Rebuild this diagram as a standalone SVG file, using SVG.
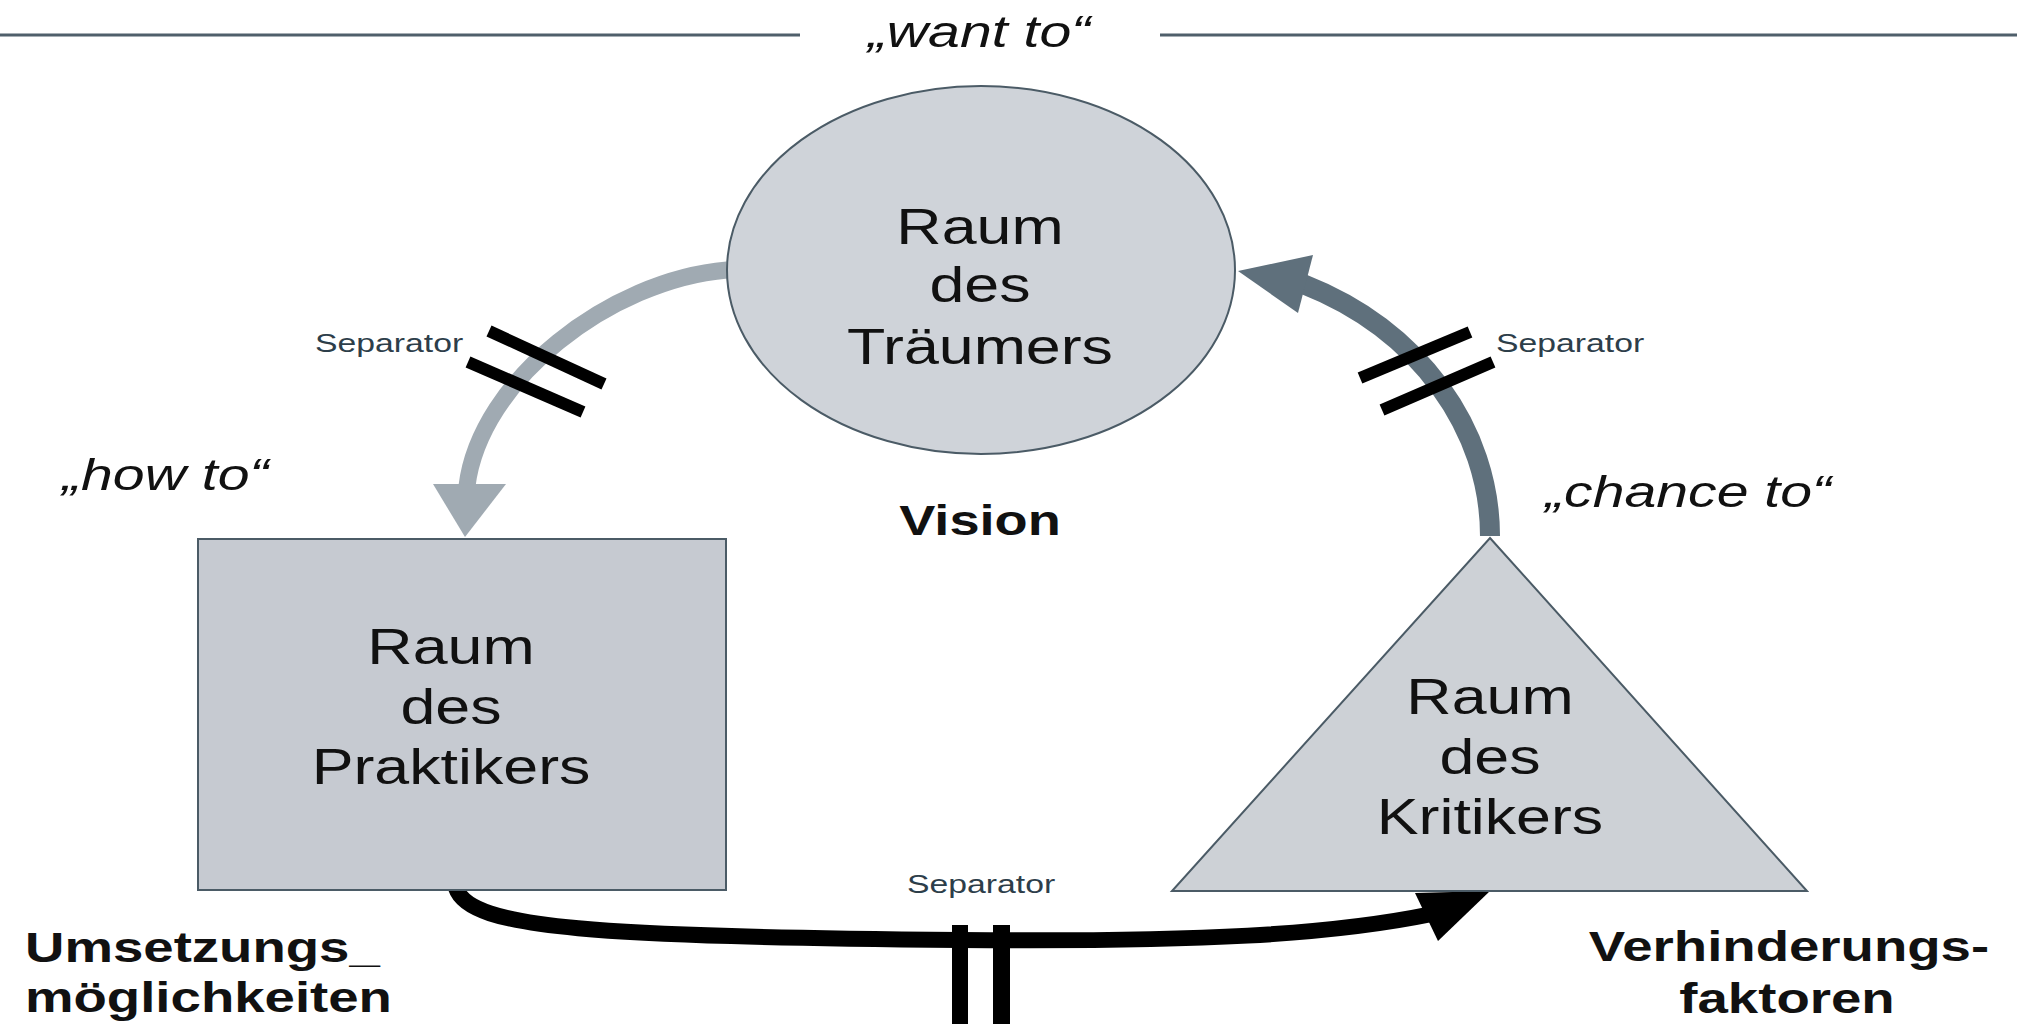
<svg xmlns="http://www.w3.org/2000/svg" width="2017" height="1024" viewBox="0 0 2017 1024">
<style>
.t{font-family:"Liberation Sans",Arial,sans-serif;fill:#111;}
.big{font-size:49px;}
.it{font-size:44px;font-style:italic;}
.bd{font-size:42px;font-weight:bold;}
.sep{font-family:"Liberation Sans",Arial,sans-serif;font-size:25px;fill:#2d3e4a;}
.node{stroke:#4b5b66;stroke-width:2;}
.bar{stroke:#000;stroke-width:12;}
</style>
<rect width="2017" height="1024" fill="#fff"/>
<g id="topline" stroke="#4f5f6b" stroke-width="3">
<line x1="0" y1="35" x2="800" y2="35"/>
<line x1="1160" y1="35" x2="2017" y2="35"/>
</g>
<text class="t it" text-anchor="middle" transform="translate(979,47) scale(1.3,1)">„want to“</text>

<g id="connectors">
<path d="M727 270 C610 280 480 380 467 486" fill="none" stroke="#a0aab2" stroke-width="17"/>
<polygon points="465,537 433,484 506,484" fill="#a0aab2"/>
<path d="M1490 536 C1490 430 1420 330 1303 284" fill="none" stroke="#5f707c" stroke-width="20"/>
<polygon points="1238,271 1313,255 1298,313" fill="#5f707c"/>
<path d="M456 888 C470 930 600 936 960 940 C1200 942 1330 935 1432 914" fill="none" stroke="#000" stroke-width="16"/>
<polygon points="1490,891 1415,893 1438,941" fill="#000"/>
<line class="bar" x1="489" y1="331" x2="604" y2="384"/>
<line class="bar" x1="468" y1="362" x2="583" y2="412"/>
<line class="bar" x1="1360" y1="378" x2="1470" y2="332"/>
<line class="bar" x1="1382" y1="410" x2="1493" y2="362"/>
<rect x="952" y="925" width="16" height="100" fill="#000"/>
<rect x="993" y="925" width="17" height="100" fill="#000"/>
</g>

<g id="traeumer">
<ellipse class="node" cx="981" cy="270" rx="254" ry="184" fill="#cfd3d9"/>
<text class="t big" text-anchor="middle" transform="translate(980,244) scale(1.28,1)">Raum</text>
<text class="t big" text-anchor="middle" transform="translate(980,302) scale(1.28,1)">des</text>
<text class="t big" text-anchor="middle" transform="translate(980,364) scale(1.28,1)">Träumers</text>
</g>

<g id="praktiker">
<rect class="node" x="198" y="539" width="528" height="351" fill="#c6cad1"/>
<text class="t big" text-anchor="middle" transform="translate(451,664) scale(1.28,1)">Raum</text>
<text class="t big" text-anchor="middle" transform="translate(451,724) scale(1.28,1)">des</text>
<text class="t big" text-anchor="middle" transform="translate(451,784) scale(1.28,1)">Praktikers</text>
</g>

<g id="kritiker">
<polygon class="node" points="1490,538 1807,891 1172,891" fill="#cdd1d6"/>
<text class="t big" text-anchor="middle" transform="translate(1490,714) scale(1.28,1)">Raum</text>
<text class="t big" text-anchor="middle" transform="translate(1490,774) scale(1.28,1)">des</text>
<text class="t big" text-anchor="middle" transform="translate(1490,834) scale(1.28,1)">Kritikers</text>
</g>

<g id="labels">
<text class="sep" transform="translate(315,352) scale(1.35,1)">Separator</text>
<text class="sep" transform="translate(1496,352) scale(1.35,1)">Separator</text>
<text class="sep" transform="translate(907,893) scale(1.35,1)">Separator</text>
<text class="t it" transform="translate(62,490) scale(1.3,1)">„how to“</text>
<text class="t it" transform="translate(1545,507) scale(1.3,1)">„chance to“</text>
<text class="t bd" text-anchor="middle" transform="translate(980,535) scale(1.29,1)">Vision</text>
<text class="t bd" transform="translate(25,962) scale(1.3,1)">Umsetzungs_</text>
<text class="t bd" transform="translate(25,1012) scale(1.3,1)">möglichkeiten</text>
<text class="t bd" text-anchor="middle" transform="translate(1789,961) scale(1.3,1)">Verhinderungs-</text>
<text class="t bd" text-anchor="middle" transform="translate(1787,1013) scale(1.3,1)">faktoren</text>
</g>
</svg>
